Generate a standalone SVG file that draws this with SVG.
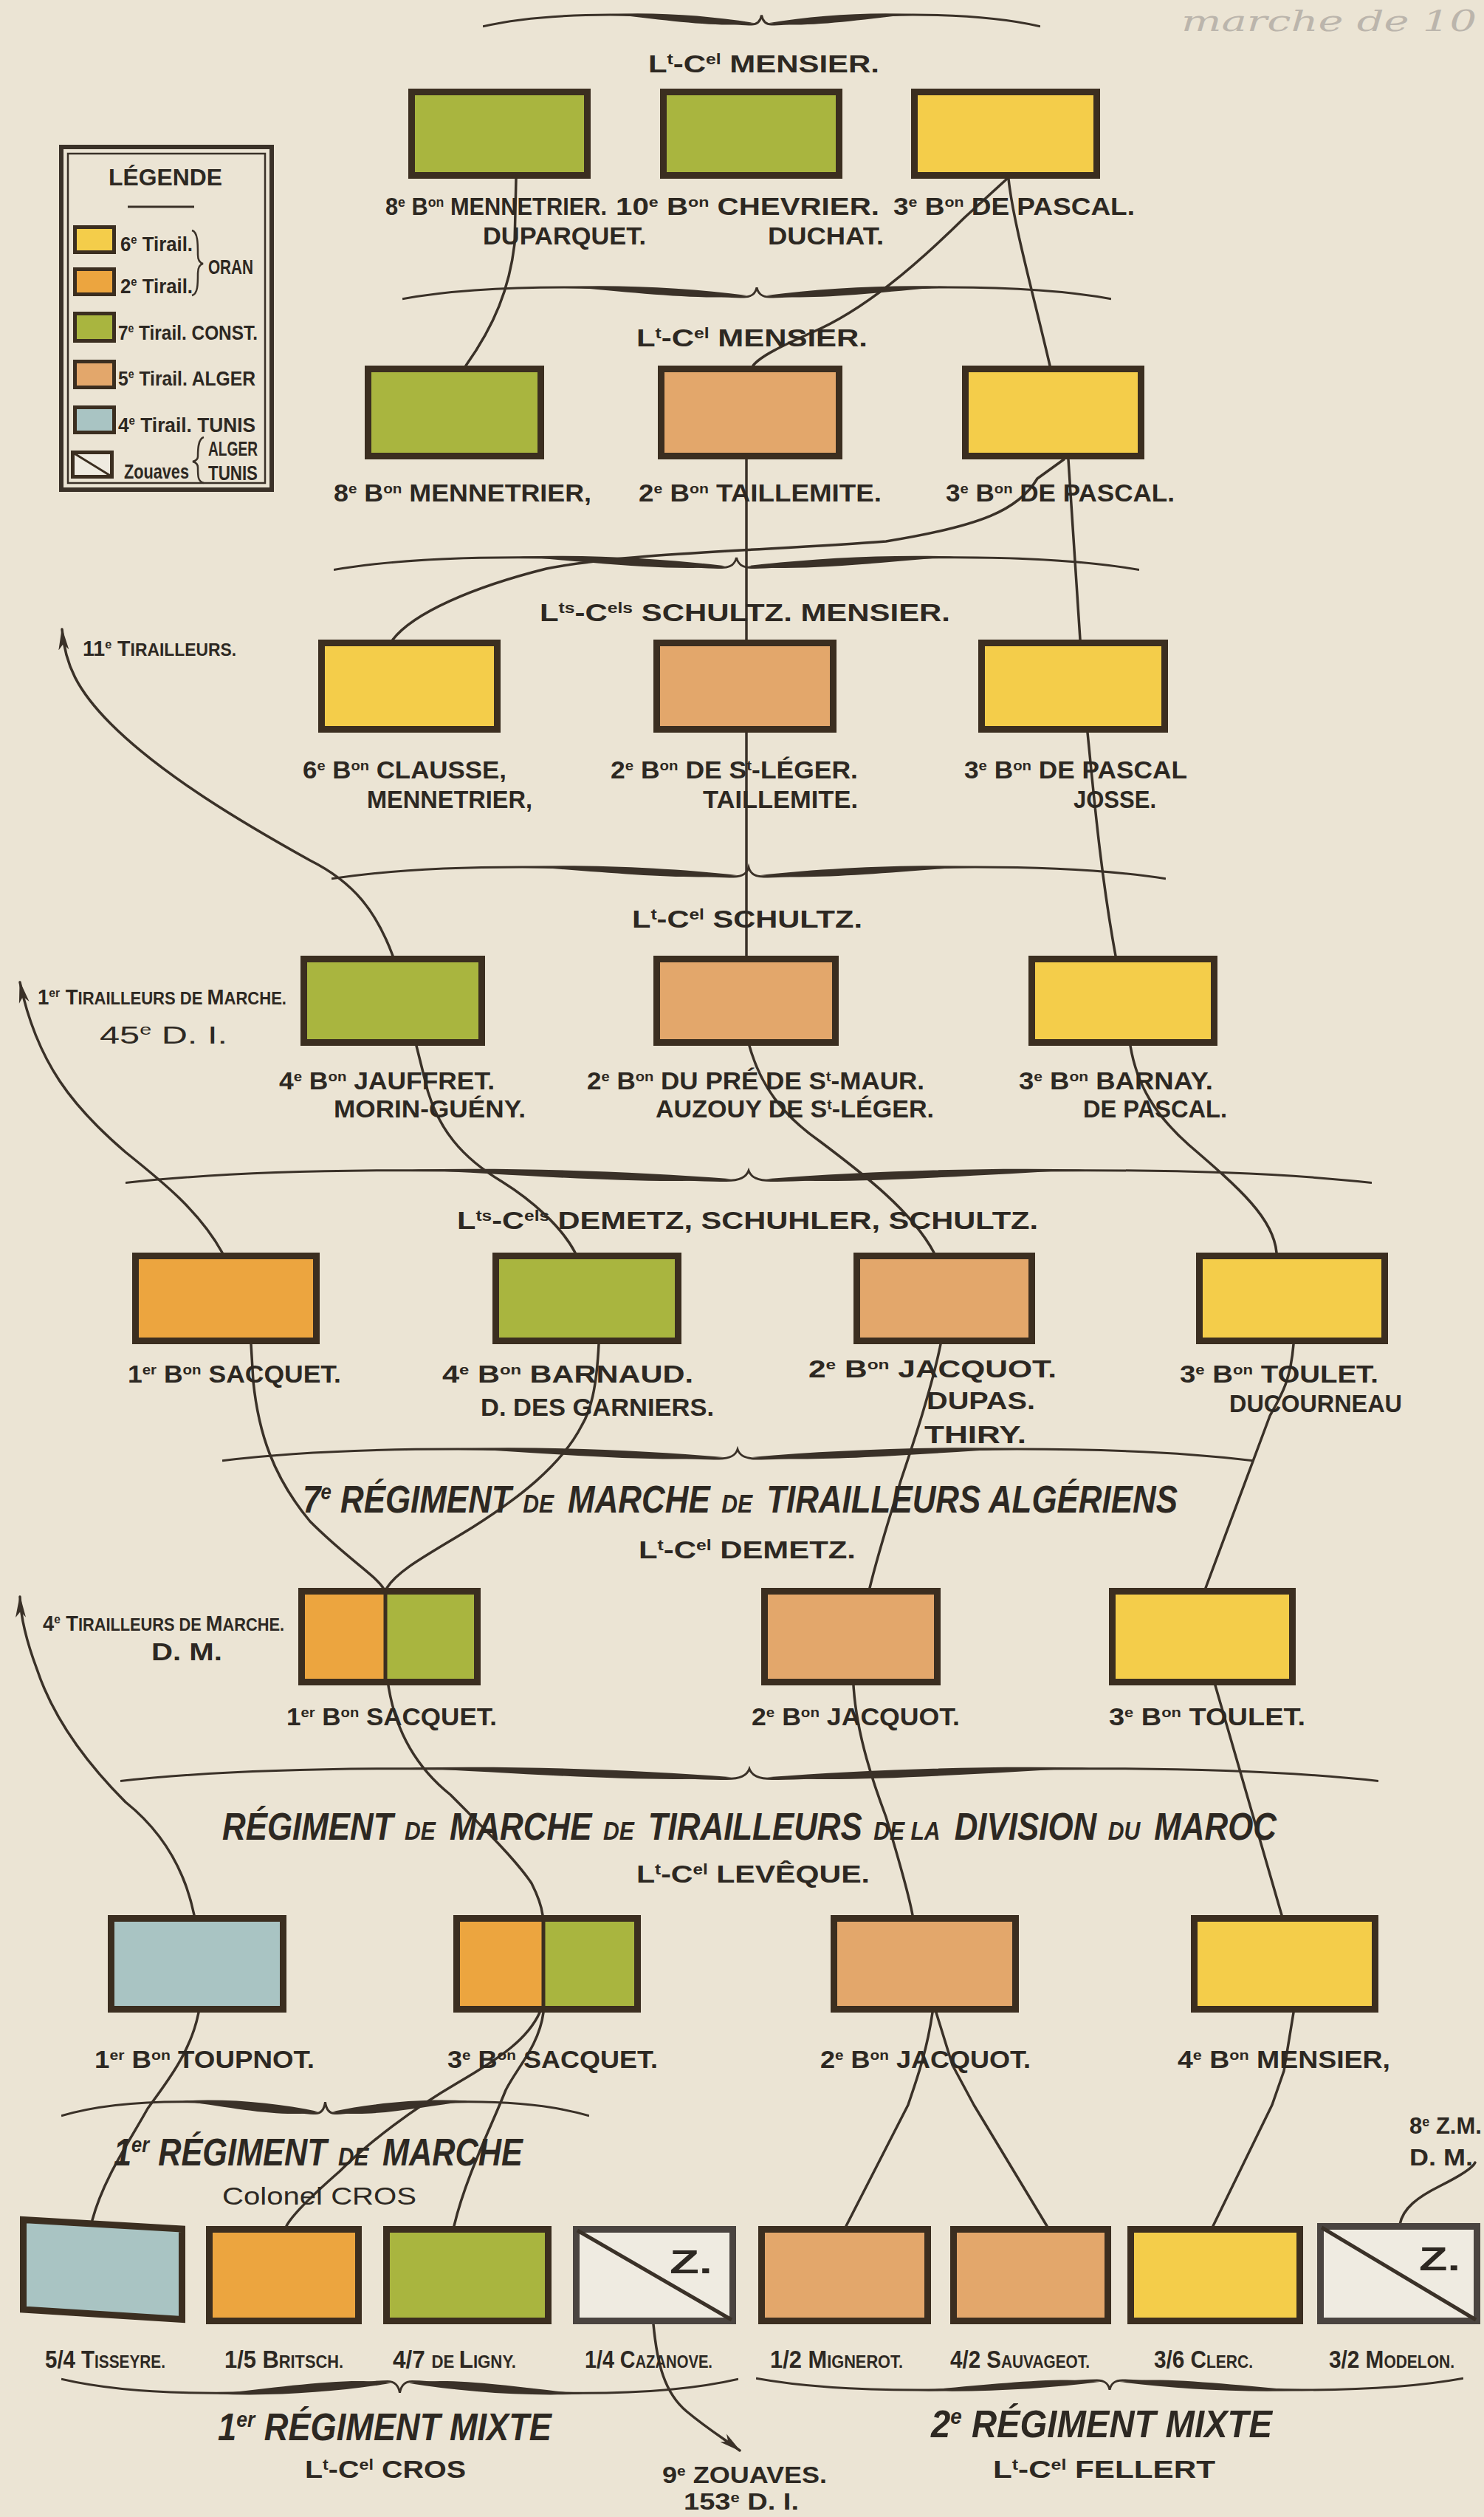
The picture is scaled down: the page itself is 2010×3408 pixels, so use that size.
<svg xmlns="http://www.w3.org/2000/svg" width="2010" height="3408" viewBox="0 0 2010 3408">
<style>
text{font-family:"Liberation Sans",Arial,"DejaVu Sans",sans-serif;fill:#2d2822;font-weight:bold}
.L{font-size:33px}
.T{font-size:34px}
.I{font-size:51px;font-style:italic}
.u{font-size:19px}
.ut{font-size:20px}
.ui{font-size:30px}
.dc{font-size:35px}
.sc{font-size:24px}
.lt{font-size:28px}
.lu{font-size:16px}
.nw{font-weight:normal}
.c{fill:none;stroke:#3a3128;stroke-width:3.5;stroke-linecap:round;stroke-linejoin:round}
.bx{stroke:#3b2e20;stroke-width:9}
.zx{stroke:#4a4440;stroke-width:9}
.g{fill:#a9b53f}
.y{fill:#f4cd4a}
.o{fill:#eca53f}
.p{fill:#e3a76b}
.b{fill:#a9c4c3}
.z{fill:#efebe1}
.lg{stroke:#3b2e20;stroke-width:5}
.bl{fill:none;stroke:#3a3128;stroke-width:2.5}
</style>
<defs>
<symbol id="bu" viewBox="0 0 1000 40" preserveAspectRatio="none">
<path d="M0,34 C80,14 180,10 270,12 C370,14 440,30 482,30 C493,30 498,24 500,12 C502,24 507,30 518,30 C560,30 630,14 730,12 C820,10 920,14 1000,34" fill="none" stroke="#3a3128" stroke-width="3" vector-effect="non-scaling-stroke"/>
<path d="M230,10 C320,6 410,14 486,27 C430,38 330,22 230,10 Z" fill="#3a3128"/>
<path d="M770,10 C680,6 590,14 514,27 C570,38 670,22 770,10 Z" fill="#3a3128"/>
</symbol>
<symbol id="bd" viewBox="0 0 1000 40" preserveAspectRatio="none">
<g transform="matrix(1 0 0 -1 0 40)">
<path d="M0,34 C80,14 180,10 270,12 C370,14 440,30 482,30 C493,30 498,24 500,12 C502,24 507,30 518,30 C560,30 630,14 730,12 C820,10 920,14 1000,34" fill="none" stroke="#3a3128" stroke-width="3" vector-effect="non-scaling-stroke"/>
<path d="M230,10 C320,6 410,14 486,27 C430,38 330,22 230,10 Z" fill="#3a3128"/>
<path d="M770,10 C680,6 590,14 514,27 C570,38 670,22 770,10 Z" fill="#3a3128"/>
</g>
</symbol>
<marker id="ah" viewBox="0 0 30 16" refX="28" refY="8" markerWidth="30" markerHeight="16" markerUnits="userSpaceOnUse" orient="auto">
<path d="M0,1 L30,8 L0,15 L8,8 Z" fill="#3a3128"/>
</marker>
</defs>

<rect x="0" y="0" width="2010" height="3408" fill="#ebe4d4"/>
<text x="1600" y="42" textLength="400" lengthAdjust="spacingAndGlyphs" style="font-family:'DejaVu Serif',serif;font-style:italic;font-weight:normal;font-size:40px;fill:#bbb5ac">marche de 10</text>

<g id="braces">
<use href="#bu" x="654" y="12" width="755" height="28"/>
<use href="#bu" x="545" y="381" width="960" height="28"/>
<use href="#bu" x="452" y="746" width="1091" height="30"/>
<use href="#bu" x="449" y="1166" width="1130" height="28"/>
<use href="#bu" x="170" y="1576" width="1688" height="30"/>
<use href="#bu" x="301" y="1954" width="1396" height="28"/>
<use href="#bu" x="163" y="2386" width="1704" height="30"/>
<use href="#bu" x="83" y="2836" width="715" height="34"/>
<use href="#bd" x="83" y="3216" width="917" height="34"/>
<use href="#bd" x="1024" y="3216" width="958" height="28"/>
</g>

<g id="connectors">
<path class="c" d="M699,242 L697,330 C690,390 670,440 631,495"/>
<path class="c" d="M1364,242 L1306,295 C1240,360 1170,420 1100,450 C1060,468 1030,482 1020,495"/>
<path class="c" d="M1366,242 C1372,300 1400,400 1422,495"/>
<path class="c" d="M1011,622 L1011,866 M1011,992 L1011,1294"/>
<path class="c" d="M1441,622 L1405,648 C1380,690 1330,712 1200,733 C1050,745 850,748 740,770 C640,795 560,830 532,866"/>
<path class="c" d="M1447,622 L1463,866"/>
<path class="c" d="M1473,992 C1480,1060 1490,1180 1511,1294"/>
<path class="c" marker-end="url(#ah)" d="M532,1294 C510,1235 480,1195 420,1165 C330,1115 220,1050 150,980 C105,935 88,900 84,852"/>
<path class="c" d="M564,1416 L575,1460 C590,1530 630,1570 680,1600 C720,1625 760,1660 779,1696"/>
<path class="c" d="M1015,1416 C1030,1470 1060,1510 1110,1545 C1170,1590 1235,1640 1265,1696"/>
<path class="c" d="M1531,1416 C1540,1470 1565,1510 1610,1550 C1680,1610 1725,1650 1729,1696"/>
<path class="c" marker-end="url(#ah)" d="M301,1696 C270,1640 220,1600 170,1560 C100,1500 50,1440 27,1330"/>
<path class="c" d="M340,1820 L343,1870 C350,1940 370,2000 420,2060 C470,2110 505,2130 519,2150"/>
<path class="c" d="M811,1820 C808,1880 800,1910 788,1930 C760,1985 700,2030 640,2068 C580,2105 540,2125 524,2150"/>
<path class="c" d="M1274,1820 C1262,1880 1235,1960 1220,2005 C1205,2055 1190,2100 1178,2150"/>
<path class="c" d="M1752,1820 C1748,1870 1735,1890 1720,1917 L1633,2150"/>
<path class="c" marker-end="url(#ah)" d="M263,2593 C250,2530 220,2480 170,2440 C110,2380 70,2320 50,2260 C35,2220 28,2190 27,2162"/>
<path class="c" d="M526,2282 C535,2340 560,2390 610,2430 C660,2480 700,2520 720,2550 C730,2570 734,2585 735,2593"/>
<path class="c" d="M1156,2282 C1160,2350 1185,2420 1200,2460 C1215,2510 1230,2560 1236,2593"/>
<path class="c" d="M1646,2282 L1736,2593"/>
<path class="c" d="M269,2725 C258,2780 225,2820 200,2855 C175,2900 140,2950 125,3006"/>
<path class="c" d="M731,2725 C715,2760 680,2785 620,2820 C560,2855 500,2900 460,2940 C420,2975 395,3000 388,3014"/>
<path class="c" d="M736,2725 C730,2770 700,2800 685,2830 C665,2880 630,2950 615,3014"/>
<path class="c" d="M1263,2725 C1255,2780 1240,2820 1230,2850 L1146,3014"/>
<path class="c" d="M1268,2725 L1290,2796 L1319,2850 L1418,3014"/>
<path class="c" d="M1752,2725 L1739,2804 L1723,2850 L1643,3014"/>
<path class="c" d="M1896,3012 C1900,2990 1920,2975 1950,2960 C1980,2945 1995,2935 1998,2928"/>
<path class="c" marker-end="url(#ah)" d="M885,3147 C890,3200 900,3240 930,3265 C960,3290 985,3305 1002,3318"/>
</g>

<g id="legend">
<rect x="83" y="199" width="285" height="464" fill="none" stroke="#3a3128" stroke-width="6"/>
<rect x="92" y="208" width="267" height="446" fill="none" stroke="#3a3128" stroke-width="2.5"/>
<text x="147" y="251" font-size="32" textLength="154" lengthAdjust="spacingAndGlyphs">LÉGENDE</text>
<line x1="173" y1="280" x2="263" y2="280" stroke="#3a3128" stroke-width="3"/>
<rect class="y lg" x="101.5" y="307.5" width="53" height="34"/>
<rect class="o lg" x="101.5" y="364.5" width="53" height="34"/>
<rect class="g lg" x="101.5" y="424.5" width="53" height="37"/>
<rect class="p lg" x="101.5" y="489.5" width="53" height="35"/>
<rect class="b lg" x="101.5" y="551.5" width="53" height="34"/>
<rect class="z lg" x="98.5" y="612.5" width="53" height="33"/>
<line x1="99" y1="613" x2="151" y2="645" stroke="#3b2e20" stroke-width="3"/>
<text class="lt" x="163" y="340" textLength="98" lengthAdjust="spacingAndGlyphs">6<tspan class="lu" dy="-10">e</tspan><tspan dy="10"> Tirail.</tspan></text>
<text class="lt" x="163" y="397" textLength="98" lengthAdjust="spacingAndGlyphs">2<tspan class="lu" dy="-10">e</tspan><tspan dy="10"> Tirail.</tspan></text>
<path class="bl" d="M260,312 C268,314 268,330 268,345 C268,352 271,356 275,357 C271,358 268,362 268,370 C268,385 268,398 260,400"/>
<text class="lt" x="282" y="371" textLength="61" lengthAdjust="spacingAndGlyphs">ORAN</text>
<text class="lt" x="160" y="460" textLength="189" lengthAdjust="spacingAndGlyphs">7<tspan class="lu" dy="-10">e</tspan><tspan dy="10"> Tirail. CONST.</tspan></text>
<text class="lt" x="160" y="522" textLength="186" lengthAdjust="spacingAndGlyphs">5<tspan class="lu" dy="-10">e</tspan><tspan dy="10"> Tirail.  ALGER</tspan></text>
<text class="lt" x="160" y="585" textLength="186" lengthAdjust="spacingAndGlyphs">4<tspan class="lu" dy="-10">e</tspan><tspan dy="10"> Tirail.  TUNIS</tspan></text>
<text class="lt" x="168" y="648" textLength="88" lengthAdjust="spacingAndGlyphs">Zouaves</text>
<path class="bl" d="M276,592 C268,594 268,610 268,618 C268,622 265,624 261,625 C265,626 268,628 268,633 C268,645 268,652 276,654"/>
<text class="lt" x="282" y="617" textLength="67" lengthAdjust="spacingAndGlyphs">ALGER</text>
<text class="lt" x="282" y="650" textLength="67" lengthAdjust="spacingAndGlyphs">TUNIS</text>
</g>

<g id="titles">
<text class="T" x="878" y="98" textLength="313" lengthAdjust="spacingAndGlyphs">L<tspan class="ut" dy="-11">t</tspan><tspan dy="11">-C</tspan><tspan class="ut" dy="-11">el</tspan><tspan dy="11"> MENSIER.</tspan></text>
<text class="T" x="862" y="469" textLength="313" lengthAdjust="spacingAndGlyphs">L<tspan class="ut" dy="-11">t</tspan><tspan dy="11">-C</tspan><tspan class="ut" dy="-11">el</tspan><tspan dy="11"> MENSIER.</tspan></text>
<text class="T" x="731" y="841" textLength="556" lengthAdjust="spacingAndGlyphs">L<tspan class="ut" dy="-11">ts</tspan><tspan dy="11">-C</tspan><tspan class="ut" dy="-11">els</tspan><tspan dy="11"> SCHULTZ. MENSIER.</tspan></text>
<text class="T" x="856" y="1256" textLength="312" lengthAdjust="spacingAndGlyphs">L<tspan class="ut" dy="-11">t</tspan><tspan dy="11">-C</tspan><tspan class="ut" dy="-11">el</tspan><tspan dy="11"> SCHULTZ.</tspan></text>
<text class="T" x="619" y="1664" textLength="787" lengthAdjust="spacingAndGlyphs">L<tspan class="ut" dy="-11">ts</tspan><tspan dy="11">-C</tspan><tspan class="ut" dy="-11">els</tspan><tspan dy="11"> DEMETZ, SCHUHLER, SCHULTZ.</tspan></text>
<text class="I" x="410" y="2048" textLength="1185" lengthAdjust="spacingAndGlyphs">7<tspan class="ui" dy="-18">e</tspan><tspan dy="18"> RÉGIMENT</tspan><tspan class="dc" dx="18">DE</tspan><tspan dx="8"> MARCHE</tspan><tspan class="dc" dx="18">DE</tspan><tspan dx="8"> TIRAILLEURS ALGÉRIENS</tspan></text>
<text class="T" x="865" y="2110" textLength="294" lengthAdjust="spacingAndGlyphs">L<tspan class="ut" dy="-11">t</tspan><tspan dy="11">-C</tspan><tspan class="ut" dy="-11">el</tspan><tspan dy="11"> DEMETZ.</tspan></text>
<text class="I" x="301" y="2491" textLength="1428" lengthAdjust="spacingAndGlyphs">RÉGIMENT<tspan class="dc" dx="18">DE</tspan><tspan dx="8"> MARCHE</tspan><tspan class="dc" dx="18">DE</tspan><tspan dx="8"> TIRAILLEURS</tspan><tspan class="dc" dx="18">DE LA</tspan><tspan dx="8"> DIVISION</tspan><tspan class="dc" dx="18">DU</tspan><tspan dx="8"> MAROC</tspan></text>
<text class="T" x="862" y="2549" textLength="316" lengthAdjust="spacingAndGlyphs">L<tspan class="ut" dy="-11">t</tspan><tspan dy="11">-C</tspan><tspan class="ut" dy="-11">el</tspan><tspan dy="11"> LEVÊQUE.</tspan></text>
<text class="I" x="154" y="2932" textLength="554" lengthAdjust="spacingAndGlyphs">1<tspan class="ui" dy="-18">er</tspan><tspan dy="18"> RÉGIMENT</tspan><tspan class="dc" dx="18">DE</tspan><tspan dx="8"> MARCHE</tspan></text>
<text class="nw" x="301" y="2985" font-size="34" textLength="263" lengthAdjust="spacingAndGlyphs">Colonel CROS</text>
<text class="I" x="295" y="3304" textLength="452" lengthAdjust="spacingAndGlyphs">1<tspan class="ui" dy="-18">er</tspan><tspan dy="18"> RÉGIMENT MIXTE</tspan></text>
<text class="T" x="413" y="3355" textLength="218" lengthAdjust="spacingAndGlyphs">L<tspan class="ut" dy="-11">t</tspan><tspan dy="11">-C</tspan><tspan class="ut" dy="-11">el</tspan><tspan dy="11"> CROS</tspan></text>
<text class="I" x="1261" y="3300" textLength="462" lengthAdjust="spacingAndGlyphs">2<tspan class="ui" dy="-18">e</tspan><tspan dy="18"> RÉGIMENT MIXTE</tspan></text>
<text class="T" x="1345" y="3355" textLength="301" lengthAdjust="spacingAndGlyphs">L<tspan class="ut" dy="-11">t</tspan><tspan dy="11">-C</tspan><tspan class="ut" dy="-11">el</tspan><tspan dy="11"> FELLERT</tspan></text>
</g>

<g id="side-labels">
<text x="112" y="888" font-size="30" textLength="208" lengthAdjust="spacingAndGlyphs">11<tspan font-size="17" dy="-10">e</tspan><tspan dy="10"> T</tspan><tspan class="sc">IRAILLEURS.</tspan></text>
<text x="51" y="1360" font-size="30" textLength="337" lengthAdjust="spacingAndGlyphs">1<tspan font-size="17" dy="-10">er</tspan><tspan dy="10"> T</tspan><tspan class="sc">IRAILLEURS DE </tspan>M<tspan class="sc">ARCHE.</tspan></text>
<text class="nw" x="135" y="1413" font-size="34" textLength="173" lengthAdjust="spacingAndGlyphs">45<tspan font-size="20" dy="-12">e</tspan><tspan dy="12"> D. I.</tspan></text>
<text x="58" y="2208" font-size="30" textLength="327" lengthAdjust="spacingAndGlyphs">4<tspan font-size="17" dy="-10">e</tspan><tspan dy="10"> T</tspan><tspan class="sc">IRAILLEURS DE </tspan>M<tspan class="sc">ARCHE.</tspan></text>
<text x="205" y="2248" font-size="34" textLength="96" lengthAdjust="spacingAndGlyphs">D. M.</text>
<text x="897" y="3362" font-size="31" textLength="223" lengthAdjust="spacingAndGlyphs">9<tspan font-size="18" dy="-10">e</tspan><tspan dy="10"> ZOUAVES.</tspan></text>
<text x="926" y="3398" font-size="31" textLength="156" lengthAdjust="spacingAndGlyphs">153<tspan font-size="18" dy="-10">e</tspan><tspan dy="10"> D. I.</tspan></text>
<text x="1909" y="2889" font-size="31">8<tspan font-size="18" dy="-10">e</tspan><tspan dy="10"> Z.M.</tspan></text>
<text x="1909" y="2932" font-size="31" textLength="86" lengthAdjust="spacingAndGlyphs">D. M.</text>
</g>

<g id="row1">
<g id="n-8bon-mennetrier-1"><rect class="g bx" x="557.5" y="124.5" width="238" height="113"/></g>
<g id="n-10bon-chevrier"><rect class="g bx" x="898.5" y="124.5" width="238" height="113"/></g>
<g id="n-3bon-pascal-1"><rect class="y bx" x="1238.5" y="124.5" width="247" height="113"/></g>
<text class="L" x="522" y="291" textLength="300" lengthAdjust="spacingAndGlyphs">8<tspan class="u" dy="-11">e</tspan><tspan dy="11"> B</tspan><tspan class="u" dy="-11">on</tspan><tspan dy="11"> MENNETRIER.</tspan></text>
<text class="L" x="834" y="291" textLength="357" lengthAdjust="spacingAndGlyphs">10<tspan class="u" dy="-11">e</tspan><tspan dy="11"> B</tspan><tspan class="u" dy="-11">on</tspan><tspan dy="11"> CHEVRIER.</tspan></text>
<text class="L" x="1210" y="291" textLength="327" lengthAdjust="spacingAndGlyphs">3<tspan class="u" dy="-11">e</tspan><tspan dy="11"> B</tspan><tspan class="u" dy="-11">on</tspan><tspan dy="11"> DE PASCAL.</tspan></text>
<text class="L" x="654" y="331" textLength="221" lengthAdjust="spacingAndGlyphs">DUPARQUET.</text>
<text class="L" x="1040" y="331" textLength="157" lengthAdjust="spacingAndGlyphs">DUCHAT.</text>
</g>

<g id="row2">
<g id="n-8bon-mennetrier-2"><rect class="g bx" x="498.5" y="499.5" width="234" height="118"/></g>
<g id="n-2bon-taillemite"><rect class="p bx" x="895.5" y="499.5" width="241" height="118"/></g>
<g id="n-3bon-pascal-2"><rect class="y bx" x="1307.5" y="499.5" width="238" height="118"/></g>
<text class="L" x="452" y="679" textLength="349" lengthAdjust="spacingAndGlyphs">8<tspan class="u" dy="-11">e</tspan><tspan dy="11"> B</tspan><tspan class="u" dy="-11">on</tspan><tspan dy="11"> MENNETRIER,</tspan></text>
<text class="L" x="865" y="679" textLength="329" lengthAdjust="spacingAndGlyphs">2<tspan class="u" dy="-11">e</tspan><tspan dy="11"> B</tspan><tspan class="u" dy="-11">on</tspan><tspan dy="11"> TAILLEMITE.</tspan></text>
<text class="L" x="1281" y="679" textLength="310" lengthAdjust="spacingAndGlyphs">3<tspan class="u" dy="-11">e</tspan><tspan dy="11"> B</tspan><tspan class="u" dy="-11">on</tspan><tspan dy="11"> DE PASCAL.</tspan></text>
</g>

<g id="row3">
<g id="n-6bon-clausse"><rect class="y bx" x="435.5" y="870.5" width="238" height="117"/></g>
<g id="n-2bon-st-leger"><rect class="p bx" x="889.5" y="870.5" width="239" height="117"/></g>
<g id="n-3bon-pascal-3"><rect class="y bx" x="1329.5" y="870.5" width="248" height="117"/></g>
<text class="L" x="410" y="1054" textLength="276" lengthAdjust="spacingAndGlyphs">6<tspan class="u" dy="-11">e</tspan><tspan dy="11"> B</tspan><tspan class="u" dy="-11">on</tspan><tspan dy="11"> CLAUSSE,</tspan></text>
<text class="L" x="497" y="1094" textLength="224" lengthAdjust="spacingAndGlyphs">MENNETRIER,</text>
<text class="L" x="827" y="1054" textLength="335" lengthAdjust="spacingAndGlyphs">2<tspan class="u" dy="-11">e</tspan><tspan dy="11"> B</tspan><tspan class="u" dy="-11">on</tspan><tspan dy="11"> DE S</tspan><tspan class="u" dy="-11">t</tspan><tspan dy="11">-LÉGER.</tspan></text>
<text class="L" x="952" y="1094" textLength="210" lengthAdjust="spacingAndGlyphs">TAILLEMITE.</text>
<text class="L" x="1306" y="1054" textLength="302" lengthAdjust="spacingAndGlyphs">3<tspan class="u" dy="-11">e</tspan><tspan dy="11"> B</tspan><tspan class="u" dy="-11">on</tspan><tspan dy="11"> DE PASCAL</tspan></text>
<text class="L" x="1454" y="1094" textLength="112" lengthAdjust="spacingAndGlyphs">JOSSE.</text>
</g>

<g id="row4">
<g id="n-4bon-jauffret"><rect class="g bx" x="411.5" y="1298.5" width="241" height="113"/></g>
<g id="n-2bon-du-pre"><rect class="p bx" x="889.5" y="1298.5" width="242" height="113"/></g>
<g id="n-3bon-barnay"><rect class="y bx" x="1397.5" y="1298.5" width="247" height="113"/></g>
<text class="L" x="378" y="1475" textLength="292" lengthAdjust="spacingAndGlyphs">4<tspan class="u" dy="-11">e</tspan><tspan dy="11"> B</tspan><tspan class="u" dy="-11">on</tspan><tspan dy="11"> JAUFFRET.</tspan></text>
<text class="L" x="452" y="1513" textLength="260" lengthAdjust="spacingAndGlyphs">MORIN-GUÉNY.</text>
<text class="L" x="795" y="1475" textLength="457" lengthAdjust="spacingAndGlyphs">2<tspan class="u" dy="-11">e</tspan><tspan dy="11"> B</tspan><tspan class="u" dy="-11">on</tspan><tspan dy="11"> DU PRÉ DE S</tspan><tspan class="u" dy="-11">t</tspan><tspan dy="11">-MAUR.</tspan></text>
<text class="L" x="888" y="1513" textLength="377" lengthAdjust="spacingAndGlyphs">AUZOUY DE S<tspan class="u" dy="-11">t</tspan><tspan dy="11">-LÉGER.</tspan></text>
<text class="L" x="1380" y="1475" textLength="263" lengthAdjust="spacingAndGlyphs">3<tspan class="u" dy="-11">e</tspan><tspan dy="11"> B</tspan><tspan class="u" dy="-11">on</tspan><tspan dy="11"> BARNAY.</tspan></text>
<text class="L" x="1467" y="1513" textLength="195" lengthAdjust="spacingAndGlyphs">DE PASCAL.</text>
</g>

<g id="row5">
<g id="n-1bon-sacquet-1"><rect class="o bx" x="183.5" y="1700.5" width="245" height="115"/></g>
<g id="n-4bon-barnaud"><rect class="g bx" x="671.5" y="1700.5" width="247" height="115"/></g>
<g id="n-2bon-jacquot-1"><rect class="p bx" x="1160.5" y="1700.5" width="237" height="115"/></g>
<g id="n-3bon-toulet-1"><rect class="y bx" x="1624.5" y="1700.5" width="251" height="115"/></g>
<text class="L" x="173" y="1872" textLength="289" lengthAdjust="spacingAndGlyphs">1<tspan class="u" dy="-11">er</tspan><tspan dy="11"> B</tspan><tspan class="u" dy="-11">on</tspan><tspan dy="11"> SACQUET.</tspan></text>
<text class="L" x="599" y="1872" textLength="340" lengthAdjust="spacingAndGlyphs">4<tspan class="u" dy="-11">e</tspan><tspan dy="11"> B</tspan><tspan class="u" dy="-11">on</tspan><tspan dy="11"> BARNAUD.</tspan></text>
<text class="L" x="651" y="1917" textLength="316" lengthAdjust="spacingAndGlyphs">D. DES GARNIERS.</text>
<text class="L" x="1095" y="1865" textLength="336" lengthAdjust="spacingAndGlyphs">2<tspan class="u" dy="-11">e</tspan><tspan dy="11"> B</tspan><tspan class="u" dy="-11">on</tspan><tspan dy="11"> JACQUOT.</tspan></text>
<text class="L" x="1255" y="1908" textLength="147" lengthAdjust="spacingAndGlyphs">DUPAS.</text>
<text class="L" x="1252" y="1954" textLength="138" lengthAdjust="spacingAndGlyphs">THIRY.</text>
<text class="L" x="1598" y="1872" textLength="269" lengthAdjust="spacingAndGlyphs">3<tspan class="u" dy="-11">e</tspan><tspan dy="11"> B</tspan><tspan class="u" dy="-11">on</tspan><tspan dy="11"> TOULET.</tspan></text>
<text class="L" x="1665" y="1912" textLength="234" lengthAdjust="spacingAndGlyphs">DUCOURNEAU</text>
</g>

<g id="row6">
<g id="n-1bon-sacquet-2"><rect class="o" x="408.5" y="2154.5" width="114" height="123"/><rect class="g" x="522" y="2154.5" width="124.5" height="123"/><rect x="408.5" y="2154.5" width="238" height="123" fill="none" class="bx"/><line x1="522" y1="2154" x2="522" y2="2278" stroke="#3b2e20" stroke-width="5"/></g>
<g id="n-2bon-jacquot-2"><rect class="p bx" x="1035.5" y="2154.5" width="234" height="123"/></g>
<g id="n-3bon-toulet-2"><rect class="y bx" x="1506.5" y="2154.5" width="244" height="123"/></g>
<text class="L" x="388" y="2336" textLength="285" lengthAdjust="spacingAndGlyphs">1<tspan class="u" dy="-11">er</tspan><tspan dy="11"> B</tspan><tspan class="u" dy="-11">on</tspan><tspan dy="11"> SACQUET.</tspan></text>
<text class="L" x="1018" y="2336" textLength="282" lengthAdjust="spacingAndGlyphs">2<tspan class="u" dy="-11">e</tspan><tspan dy="11"> B</tspan><tspan class="u" dy="-11">on</tspan><tspan dy="11"> JACQUOT.</tspan></text>
<text class="L" x="1502" y="2336" textLength="266" lengthAdjust="spacingAndGlyphs">3<tspan class="u" dy="-11">e</tspan><tspan dy="11"> B</tspan><tspan class="u" dy="-11">on</tspan><tspan dy="11"> TOULET.</tspan></text>
</g>

<g id="row7">
<g id="n-1bon-toupnot"><rect class="b bx" x="150.5" y="2597.5" width="233" height="123"/></g>
<g id="n-3bon-sacquet"><rect class="o" x="618.5" y="2597.5" width="117.5" height="123"/><rect class="g" x="736" y="2597.5" width="127.5" height="123"/><rect x="618.5" y="2597.5" width="245" height="123" fill="none" class="bx"/><line x1="736" y1="2597" x2="736" y2="2721" stroke="#3b2e20" stroke-width="5"/></g>
<g id="n-2bon-jacquot-3"><rect class="p bx" x="1129.5" y="2597.5" width="246" height="123"/></g>
<g id="n-4bon-mensier"><rect class="y bx" x="1617.5" y="2597.5" width="245" height="123"/></g>
<text class="L" x="128" y="2800" textLength="298" lengthAdjust="spacingAndGlyphs">1<tspan class="u" dy="-11">er</tspan><tspan dy="11"> B</tspan><tspan class="u" dy="-11">on</tspan><tspan dy="11"> TOUPNOT.</tspan></text>
<text class="L" x="606" y="2800" textLength="285" lengthAdjust="spacingAndGlyphs">3<tspan class="u" dy="-11">e</tspan><tspan dy="11"> B</tspan><tspan class="u" dy="-11">on</tspan><tspan dy="11"> SACQUET.</tspan></text>
<text class="L" x="1111" y="2800" textLength="285" lengthAdjust="spacingAndGlyphs">2<tspan class="u" dy="-11">e</tspan><tspan dy="11"> B</tspan><tspan class="u" dy="-11">on</tspan><tspan dy="11"> JACQUOT.</tspan></text>
<text class="L" x="1595" y="2800" textLength="288" lengthAdjust="spacingAndGlyphs">4<tspan class="u" dy="-11">e</tspan><tspan dy="11"> B</tspan><tspan class="u" dy="-11">on</tspan><tspan dy="11"> MENSIER,</tspan></text>
</g>

<g id="row8">
<g id="n-tisseyre"><polygon class="b bx" points="31.5,3005.5 246.5,3018 246.5,3140.5 31.5,3127"/></g>
<g id="n-britsch"><rect class="o bx" x="283.5" y="3018.5" width="202" height="124"/></g>
<g id="n-de-ligny"><rect class="g bx" x="523.5" y="3018.5" width="219" height="124"/></g>
<g id="n-cazanove"><rect class="z zx" x="780.5" y="3018.5" width="212" height="124"/><line x1="782" y1="3020" x2="991" y2="3141" stroke="#3a3128" stroke-width="5"/><text x="907" y="3078" font-size="44" textLength="58" lengthAdjust="spacingAndGlyphs">Z.</text></g>
<g id="n-mignerot"><rect class="p bx" x="1031.5" y="3018.5" width="225" height="124"/></g>
<g id="n-sauvageot"><rect class="p bx" x="1291.5" y="3018.5" width="209" height="124"/></g>
<g id="n-clerc"><rect class="y bx" x="1531.5" y="3018.5" width="229" height="124"/></g>
<g id="n-modelon"><rect class="z zx" x="1788.5" y="3014.5" width="212" height="128"/><line x1="1790" y1="3016" x2="1999" y2="3141" stroke="#3a3128" stroke-width="5"/><text x="1922" y="3074" font-size="44" textLength="56" lengthAdjust="spacingAndGlyphs">Z.</text></g>
<text x="61" y="3206" font-size="34" textLength="163" lengthAdjust="spacingAndGlyphs">5/4 T<tspan class="sc">ISSEYRE.</tspan></text>
<text x="304" y="3206" font-size="34" textLength="161" lengthAdjust="spacingAndGlyphs">1/5 B<tspan class="sc">RITSCH.</tspan></text>
<text x="532" y="3206" font-size="34" textLength="167" lengthAdjust="spacingAndGlyphs">4/7 <tspan class="sc">DE </tspan>L<tspan class="sc">IGNY.</tspan></text>
<text x="792" y="3206" font-size="34" textLength="173" lengthAdjust="spacingAndGlyphs">1/4 C<tspan class="sc">AZANOVE.</tspan></text>
<text x="1043" y="3206" font-size="34" textLength="180" lengthAdjust="spacingAndGlyphs">1/2 M<tspan class="sc">IGNEROT.</tspan></text>
<text x="1287" y="3206" font-size="34" textLength="189" lengthAdjust="spacingAndGlyphs">4/2 S<tspan class="sc">AUVAGEOT.</tspan></text>
<text x="1563" y="3206" font-size="34" textLength="134" lengthAdjust="spacingAndGlyphs">3/6 C<tspan class="sc">LERC.</tspan></text>
<text x="1800" y="3206" font-size="34" textLength="170" lengthAdjust="spacingAndGlyphs">3/2 M<tspan class="sc">ODELON.</tspan></text>
</g>
</svg>
